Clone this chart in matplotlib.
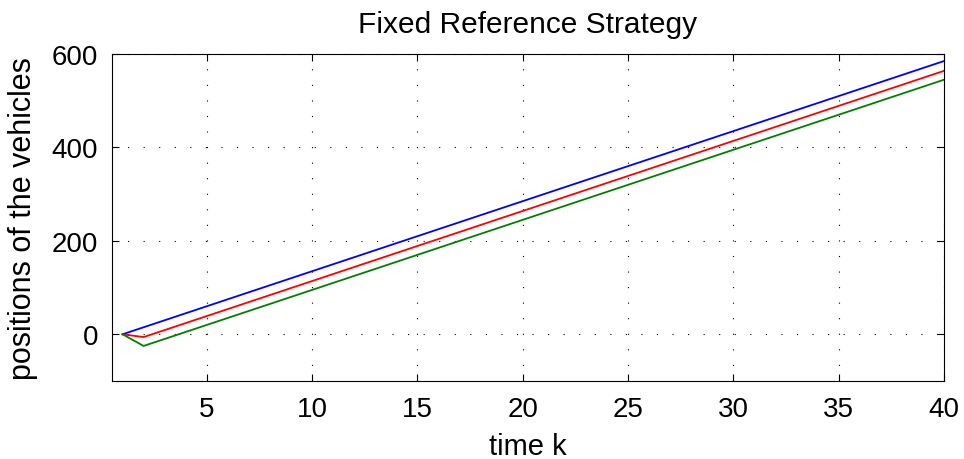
import matplotlib.pyplot as plt

plt.rcParams['font.family'] = ['Liberation Sans', 'DejaVu Sans']

# vertices of the three trajectories (straight after k=2)
k_blue = [1, 40]
pos_blue = [0, 585]
k_red = [1, 2, 40]
pos_red = [0, -6, 564]
k_green = [1, 2, 40]
pos_green = [0, -25, 545]

xticks = [5, 10, 15, 20, 25, 30, 35, 40]
yticks = [0, 200, 400, 600]

fig = plt.figure(figsize=(9.64, 4.6), dpi=100)
ax = fig.add_axes([0.1162, 0.1696, 0.8631, 0.7108])

ax.plot(k_blue, pos_blue, color='#0000ff', lw=1.3)
ax.plot(k_red, pos_red, color='#ff0000', lw=1.3)
ax.plot(k_green, pos_green, color='#008000', lw=1.3)

ax.set_xlim(0.5, 40)
ax.set_ylim(-100, 600)
ax.set_xticks(xticks)
ax.set_yticks(yticks)
ax.tick_params(direction='in', top=True, right=True, labelsize=20, length=5, width=0.8)
ax.tick_params(axis='x', pad=11)
ax.tick_params(axis='y', pad=10)
ax.grid(True, color='black', linestyle=(0, (1, 13)), linewidth=0.8)
for s in ax.spines.values():
    s.set_linewidth(0.8)

ax.set_title('Fixed Reference Strategy', fontsize=21.5, pad=16)
ax.set_xlabel('time k', fontsize=21, labelpad=7)
ax.set_ylabel('positions of the vehicles', fontsize=22, labelpad=10)

fig.savefig('out.png', dpi=100)
